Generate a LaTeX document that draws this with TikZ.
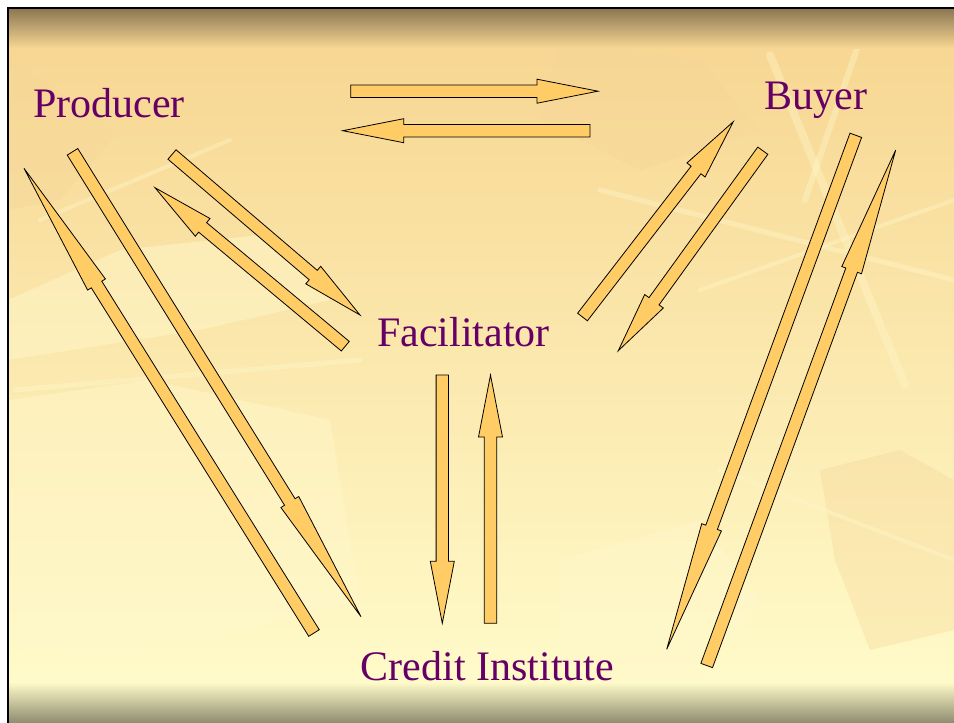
\documentclass[tikz,border=0pt]{standalone}
\usepackage{fontspec}
\setmainfont{Liberation Serif}
\usetikzlibrary{calc}
\definecolor{arrowfill}{HTML}{FFCC66}
\definecolor{txtpurple}{HTML}{660066}
\definecolor{bgtop}{HTML}{F7D692}
\definecolor{bgmid}{HTML}{FBE9B0}
\definecolor{bgbot}{HTML}{FFFBCA}
\definecolor{bandtop}{HTML}{8A7652}
\definecolor{bandbot}{HTML}{8E8B70}
\definecolor{leaflight}{HTML}{FFF7CA}
\definecolor{leafdark}{HTML}{F6D698}
\tikzset{
  barrow/.style={fill=arrowfill, draw=black, line width=0.8pt, line join=miter},
  label/.style={text=txtpurple, font=\fontsize{42}{50}\selectfont, inner sep=0pt, anchor=base},
  streak/.style={leaflight, opacity=0.4, line cap=round},
  leafshape/.style={fill=leafdark, opacity=0.35},
  leaflightshape/.style={fill=leaflight, opacity=0.5}
}
% #1 tail, #2 tip, #3 head length, #4 head half width
\newcommand\blockarr[4]{%
  \path (#1) coordinate (ta) (#2) coordinate (tp);
  \path ($(tp)!#3!(ta)$) coordinate (tb);
  \draw[barrow] ($(ta)!6.2pt!90:(tp)$) -- ($(tb)!6.2pt!90:(tp)$) -- ($(tb)!#4!90:(tp)$)
    -- (tp) -- ($(tb)!#4!-90:(tp)$) -- ($(tb)!6.2pt!-90:(tp)$) -- ($(ta)!6.2pt!-90:(tp)$) -- cycle;
}
\begin{document}
\begin{tikzpicture}[x=1pt,y=-1pt]
\useasboundingbox (0,0) rectangle (954,723);
\fill[white] (0,0) rectangle (954,723);
% background
\shade[top color=bgtop, middle color=bgmid, bottom color=bgbot] (8,40) rectangle (954,690);
% leaf texture (approximate, subtle)
\fill[leaflightshape] (8,300) -- (120,250) -- (260,235) -- (330,300) -- (200,330) -- (8,360) -- cycle;
\fill[leaflightshape] (8,400) -- (150,380) -- (330,420) -- (360,600) -- (200,640) -- (8,650) -- cycle;
\fill[leaflightshape] (560,560) -- (700,520) -- (760,600) -- (700,680) -- (560,680) -- cycle;
\fill[leafshape] (820,470) -- (900,450) -- (954,480) -- (954,630) -- (870,650) -- (835,560) -- cycle;
\fill[leafshape] (560,40) -- (700,60) -- (760,130) -- (640,170) -- (540,120) -- cycle;
\fill[leafshape] (8,60) -- (120,130) -- (60,200) -- (8,210) -- cycle;
\draw[streak, line width=8pt] (770,55) -- (905,385);
\draw[streak, line width=6pt] (860,40) -- (805,200);
\draw[streak, line width=5pt] (600,190) -- (954,280);
\draw[streak, line width=4pt] (700,290) -- (954,200);
\draw[streak, line width=5pt] (15,390) -- (360,360);
\draw[streak, line width=4pt] (40,220) -- (230,140);
\draw[streak, line width=4pt] (720,470) -- (954,560);
% top and bottom bands
\shade[top color=bandtop, bottom color=bgtop] (8,8) rectangle (954,48);
\shade[top color=bgbot, bottom color=bandbot] (8,682) rectangle (954,723);
% frame
\draw[black, line width=2.6pt] (8,723) -- (8,8) -- (954,8);

% labels
\node[label] (producer) at (109,117) {Producer};
\node[label] (buyer) at (816,109) {Buyer};
\node[label] (facil) at (463.5,346) {Facilitator};
\node[label] (credit) at (487.5,680) {Credit Institute};

% arrow end points
\coordinate (a1t) at (350.7,91.2);  \coordinate (a1p) at (598,91.2);
\coordinate (a2t) at (590,130.7);   \coordinate (a2p) at (342.7,130.7);
\coordinate (a3t) at (442.3,375);   \coordinate (a3p) at (442.3,623.3);
\coordinate (a4t) at (490.5,623.3); \coordinate (a4p) at (490.5,375);
\coordinate (a5t) at (172,154.5);   \coordinate (a5p) at (360,315);
\coordinate (a6t) at (345.3,346.2); \coordinate (a6p) at (155,187.7);
\coordinate (a7t) at (314,633);     \coordinate (a7p) at (24,168.3);
\coordinate (a8t) at (72.5,151.8);  \coordinate (a8p) at (361,616.7);
\coordinate (a9t) at (582.5,317);   \coordinate (a9p) at (733.3,121.7);
\coordinate (a10t) at (762.8,150.7); \coordinate (a10p) at (618.3,350.7);
\coordinate (a11t) at (855.8,135.3); \coordinate (a11p) at (666.7,649.3);
\coordinate (a12t) at (706.7,665.5); \coordinate (a12p) at (895.7,150);

\blockarr{a1t}{a1p}{61pt}{12pt}
\blockarr{a2t}{a2p}{61pt}{12pt}
\blockarr{a3t}{a3p}{62pt}{12pt}
\blockarr{a4t}{a4p}{62pt}{12pt}
\blockarr{a5t}{a5p}{61.5pt}{11.5pt}
\blockarr{a6t}{a6p}{62pt}{11.5pt}
\blockarr{a7t}{a7p}{137pt}{10.5pt}
\blockarr{a8t}{a8p}{135pt}{10.5pt}
\blockarr{a9t}{a9p}{61pt}{11.5pt}
\blockarr{a10t}{a10p}{61pt}{11.5pt}
\blockarr{a11t}{a11p}{130pt}{10.5pt}
\blockarr{a12t}{a12p}{128pt}{10.5pt}
\end{tikzpicture}
\end{document}
